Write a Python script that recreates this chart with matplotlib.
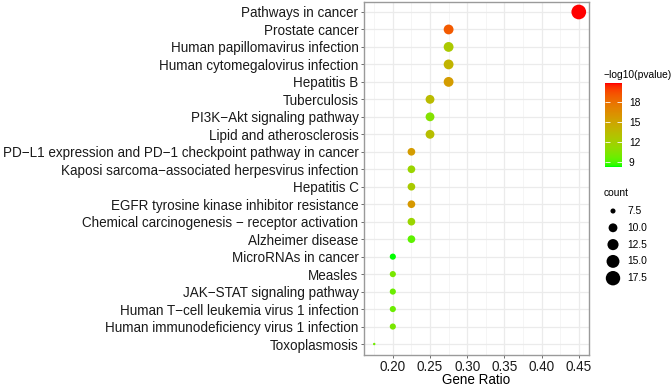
import numpy as np
import matplotlib
matplotlib.use("Agg")
import matplotlib.pyplot as plt
from matplotlib.colors import ListedColormap, Normalize
from matplotlib.cm import ScalarMappable

plt.rcParams["font.family"] = ["Liberation Sans", "DejaVu Sans"]

# KEGG enrichment results (top to bottom)
pathways = [
    "Pathways in cancer",
    "Prostate cancer",
    "Human papillomavirus infection",
    "Human cytomegalovirus infection",
    "Hepatitis B",
    "Tuberculosis",
    "PI3K−Akt signaling pathway",
    "Lipid and atherosclerosis",
    "PD−L1 expression and PD−1 checkpoint pathway in cancer",
    "Kaposi sarcoma−associated herpesvirus infection",
    "Hepatitis C",
    "EGFR tyrosine kinase inhibitor resistance",
    "Chemical carcinogenesis − receptor activation",
    "Alzheimer disease",
    "MicroRNAs in cancer",
    "Measles",
    "JAK−STAT signaling pathway",
    "Human T−cell leukemia virus 1 infection",
    "Human immunodeficiency virus 1 infection",
    "Toxoplasmosis",
]
gene_ratio = [0.45, 0.275, 0.275, 0.275, 0.275, 0.25, 0.25, 0.25,
              0.225, 0.225, 0.225, 0.225, 0.225, 0.225,
              0.20, 0.20, 0.20, 0.20, 0.20, 0.175]
count = [18, 11, 11, 11, 11, 10, 10, 10, 9, 9, 9, 9, 9, 9, 8, 8, 8, 8, 8, 7]
neg_log_p = [20.85, 19.0, 12.5, 14.0, 15.6, 13.5, 10.6, 13.3,
             15.6, 11.6, 12.4, 15.8, 11.6, 9.4,
             8.34, 10.2, 9.8, 9.8, 10.2, 9.9]

size_breaks = [7.5, 10.0, 12.5, 15.0, 17.5]
color_ticks = [9, 12, 15, 18]


# ggplot-like green -> red gradient, interpolated in CIELAB
def srgb_to_lab(rgb):
    rgb = np.asarray(rgb, float)
    lin = np.where(rgb <= 0.04045, rgb / 12.92, ((rgb + 0.055) / 1.055) ** 2.4)
    m = np.array([[0.4124, 0.3576, 0.1805],
                  [0.2126, 0.7152, 0.0722],
                  [0.0193, 0.1192, 0.9505]])
    xyz = m @ lin / np.array([0.95047, 1.0, 1.08883])
    f = np.where(xyz > 0.008856, np.cbrt(xyz), 7.787 * xyz + 16 / 116)
    return np.array([116 * f[1] - 16, 500 * (f[0] - f[1]), 200 * (f[1] - f[2])])


def lab_to_srgb(lab):
    L, a, b = lab
    fy = (L + 16) / 116
    fx = fy + a / 500
    fz = fy - b / 200
    f = np.array([fx, fy, fz])
    xyz = np.where(f ** 3 > 0.008856, f ** 3, (f - 16 / 116) / 7.787)
    xyz = xyz * np.array([0.95047, 1.0, 1.08883])
    minv = np.array([[3.2406, -1.5372, -0.4986],
                     [-0.9689, 1.8758, 0.0415],
                     [0.0557, -0.2040, 1.0570]])
    lin = np.clip(minv @ xyz, 0, 1)
    rgb = np.where(lin <= 0.0031308, 12.92 * lin, 1.055 * lin ** (1 / 2.4) - 0.055)
    return np.clip(rgb, 0, 1)


lab_lo = srgb_to_lab([0, 1, 0])
lab_hi = srgb_to_lab([1, 0, 0])
ramp = [lab_to_srgb(lab_lo + t * (lab_hi - lab_lo)) for t in np.linspace(0, 1, 256)]
cmap = ListedColormap(ramp)
norm = Normalize(vmin=min(neg_log_p), vmax=max(neg_log_p))


def size_mm(c):
    # ggplot scale_size: area mapping onto range (1, 6)
    c = np.asarray(c, float)
    return 1 + 5 * np.sqrt((c - min(count)) / (max(count) - min(count)))


def marker_area(c):
    px = 2.45 * size_mm(c)
    return (px * 0.72) ** 2


W, H = 671, 386
fig = plt.figure(figsize=(W / 100, H / 100), dpi=100)
ax = fig.add_axes([364 / W, (H - 354.5) / H, 225 / W, 353 / H])

n = len(pathways)
ypos = np.arange(n)[::-1]
ax.scatter(gene_ratio, ypos, s=marker_area(count), c=neg_log_p, cmap=cmap,
           norm=norm, linewidths=0, zorder=3)

xr = max(gene_ratio) - min(gene_ratio)
ax.set_xlim(min(gene_ratio) - 0.05 * xr, max(gene_ratio) + 0.05 * xr)
ax.set_ylim(-0.6, n - 0.4)
ax.set_yticks(ypos)
ax.set_yticklabels(pathways, fontsize=9.75, color="#1a1a1a")
ax.set_xticks([0.20, 0.25, 0.30, 0.35, 0.40, 0.45])
ax.set_xticklabels(["0.20", "0.25", "0.30", "0.35", "0.40", "0.45"],
                   fontsize=9.75, color="#1a1a1a")
ax.set_xticks([0.175, 0.225, 0.275, 0.325, 0.375, 0.425], minor=True)
ax.tick_params(axis="both", which="major", length=2.5, width=0.6, color="#555555", pad=1.5)
ax.tick_params(axis="x", which="minor", length=0)
ax.set_xlabel("Gene Ratio", fontsize=9.75, labelpad=-1, color="black")

ax.grid(True, which="major", color="#ebebeb", linewidth=0.9, zorder=0)
ax.grid(True, which="minor", axis="x", color="#f2f2f2", linewidth=0.5, zorder=0)
ax.set_axisbelow(True)
for sp in ax.spines.values():
    sp.set_color("#9a9a9a")
    sp.set_linewidth(1.0)

# colour legend
fig.text(604 / W, 1 - 75 / H, "−log10(pvalue)", fontsize=7.4, va="center", ha="left")
cax = fig.add_axes([605 / W, (H - 166.7) / H, 17 / W, 83.4 / H])
cb = fig.colorbar(ScalarMappable(norm=norm, cmap=cmap), cax=cax, ticks=color_ticks)
cb.outline.set_visible(False)
cax.tick_params(length=3.5, width=0.6, color="white", direction="in", labelsize=7.4, pad=5)
cax.yaxis.set_ticks_position("both")
cax.tick_params(labelleft=False, labelright=True)

# size legend
fig.text(604 / W, 1 - 193 / H, "count", fontsize=7.4, va="center", ha="left")
lax = fig.add_axes([600 / W, (H - 290) / H, 70 / W, 90 / H])
lax.set_xlim(600, 670)
lax.set_ylim(290, 200)
lax.axis("off")
ly = 211 + 16.8 * np.arange(len(size_breaks))
lax.scatter([613] * len(size_breaks), ly, s=marker_area(size_breaks), c="black",
            linewidths=0)
for yy, lab in zip(ly, size_breaks):
    lax.text(627, yy, f"{lab:.1f}", fontsize=7.4, va="center", ha="left")

fig.savefig("out.png", dpi=100)
